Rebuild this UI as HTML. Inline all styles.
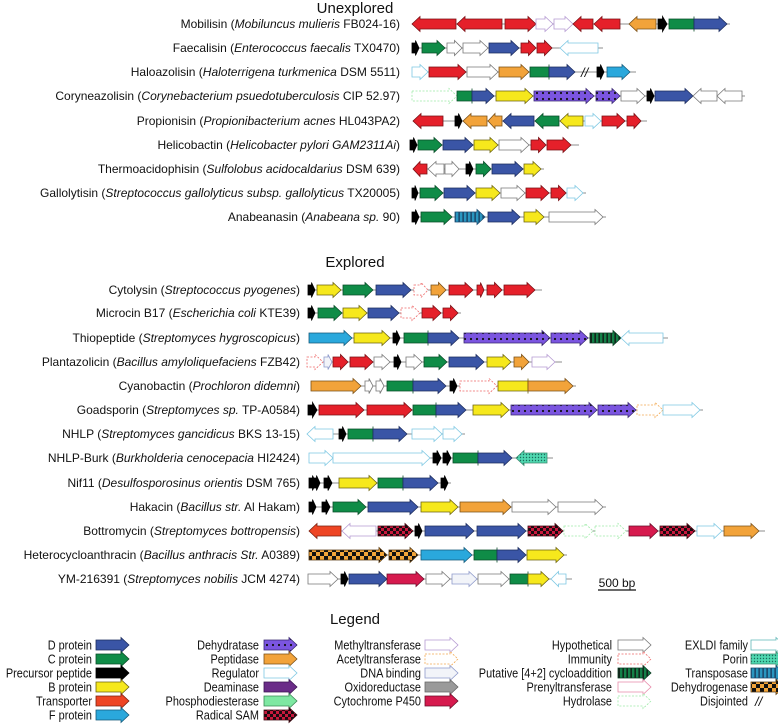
<!DOCTYPE html>
<html><head><meta charset="utf-8"><style>
html,body{margin:0;padding:0;background:#fff}
svg{display:block}
text{font-family:"Liberation Sans",Arial,sans-serif;fill:#111}
</style></head><body>
<svg id="chart" width="778" height="724" viewBox="0 0 778 724" xmlns="http://www.w3.org/2000/svg">
<defs>
<pattern id="pDh" width="6" height="6" patternUnits="userSpaceOnUse"><rect width="6" height="6" fill="#7b55e0"/><circle cx="3" cy="3" r="1.1" fill="#111"/></pattern>
<pattern id="pRS" width="6" height="6" patternUnits="userSpaceOnUse"><rect width="6" height="6" fill="#c8183c"/><rect width="3" height="3" fill="#1a0a10"/><rect x="3" y="3" width="3" height="3" fill="#1a0a10"/></pattern>
<pattern id="pDg" width="8" height="8" patternUnits="userSpaceOnUse"><rect width="8" height="8" fill="#f2a53a"/><rect width="4" height="4" fill="#111"/><rect x="4" y="4" width="4" height="4" fill="#111"/></pattern>
<pattern id="pCyc" width="4" height="4" patternUnits="userSpaceOnUse"><rect width="4" height="4" fill="#148048"/><rect x="2.5" width="1.3" height="4" fill="#111"/></pattern>
<pattern id="pTr" width="4" height="4" patternUnits="userSpaceOnUse"><rect width="4" height="4" fill="#2a96c0"/><rect x="2.5" width="1.2" height="4" fill="#163050"/></pattern>
<pattern id="pPor" width="3" height="3" patternUnits="userSpaceOnUse"><rect width="3" height="3" fill="#4fd8b0"/><circle cx="1.5" cy="1.5" r="0.7" fill="#1a6a5a"/></pattern>
</defs>
<text x="355" y="13" font-size="15" text-anchor="middle">Unexplored</text>
<text x="355" y="267" font-size="15" text-anchor="middle">Explored</text>
<text x="355" y="624" font-size="15" text-anchor="middle">Legend</text>
<g id="rows"></g>
<g id="legend"></g>
<g>
<text x="617" y="587" font-size="12" text-anchor="middle">500 bp</text>
<line id="scaleLine" x1="598" y1="590" x2="636" y2="590" stroke="#111" stroke-width="1.2"/>
</g>
</svg>
<script>
// Gene clusters: [start, end, type, dir, head] in scale units (1 unit ~ 13 bp)
const unexploredNames = [
 ["Mobilisin (","Mobiluncus mulieris"," FB024-16)"],
 ["Faecalisin (","Enterococcus faecalis"," TX0470)"],
 ["Haloazolisin (","Haloterrigena turkmenica"," DSM 5511)"],
 ["Coryneazolisin (","Corynebacterium psuedotuberculosis"," CIP 52.97)"],
 ["Propionisin (","Propionibacterium acnes"," HL043PA2)"],
 ["Helicobactin (","Helicobacter pylori GAM2311Ai",")"],
 ["Thermoacidophisin (","Sulfolobus acidocaldarius"," DSM 639)"],
 ["Gallolytisin (","Streptococcus gallolyticus subsp. gallolyticus"," TX20005)"],
 ["Anabeanasin (","Anabeana sp."," 90)"]
];
const exploredNames = [
 ["Cytolysin (","Streptococcus pyogenes",")"],
 ["Microcin B17 (","Escherichia coli"," KTE39)"],
 ["Thiopeptide (","Streptomyces hygroscopicus",")"],
 ["Plantazolicin (","Bacillus amyloliquefaciens"," FZB42)"],
 ["Cyanobactin (","Prochloron didemni",")"],
 ["Goadsporin (","Streptomyces sp."," TP-A0584)"],
 ["NHLP (","Streptomyces gancidicus"," BKS 13-15)"],
 ["NHLP-Burk (","Burkholderia cenocepacia"," HI2424)"],
 ["Nif11 (","Desulfosporosinus orientis"," DSM 765)"],
 ["Hakacin (","Bacillus str."," Al Hakam)"],
 ["Bottromycin (","Streptomyces bottropensis",")"],
 ["Heterocycloanthracin (","Bacillus anthracis Str."," A0389)"],
 ["YM-216391 (","Streptomyces nobilis"," JCM 4274)"]
];
const unexploredGenes = [
 [[2,46,"T","L"],[47,92,"T","L"],[95,126,"T","R"],[126,143,"M","R"],[144,163,"M","R"],[163,183,"T","L"],[184,210,"T","L"],[219,246,"P","L"],[248,257,"pre","R"],[259,284,"C","R",0],[284,317,"D","R"]],
 [[2,9,"pre","R"],[12,35,"C","R"],[37,52,"H","R"],[53,78,"H","R"],[79,109,"D","R"],[111,126,"T","R"],[127,142,"T","R"],[150,188,"Reg","L"],[190,190,"end","R"]],
 [[2,18,"Reg","R"],[19,56,"T","R"],[57,88,"H","R"],[89,119,"P","R"],[120,139,"C","R",0],[139,165,"D","R"],[171,171,"dis","R"],[187,194,"pre","R"],[197,220,"F","R"],[223,223,"end","R"]],
 [[2,47,"Hyd","R"],[47,62,"C","R",0],[62,84,"D","R"],[86,123,"B","R"],[124,184,"Dh","R"],[186,210,"Dh","R"],[211,235,"H","R"],[237,244,"pre","R"],[245,283,"D","R"],[283,307,"H","L"],[307,332,"H","L"]],
 [[3,33,"T","L"],[45,52,"pre","R"],[53,77,"P","L"],[78,92,"P","L"],[93,124,"D","L"],[125,149,"C","L"],[150,173,"B","L"],[175,191,"Reg","R"],[192,215,"T","R"],[217,231,"T","R"],[234,234,"end","R"]],
 [[0,7,"pre","R"],[8,32,"C","R"],[33,63,"D","R"],[64,88,"B","R"],[89,119,"H","R"],[121,136,"T","R"],[137,161,"T","R"],[166,166,"end","R"]],
 [[3,17,"T","L"],[18,34,"H","L"],[35,49,"H","R"],[56,63,"pre","R"],[66,81,"C","R"],[82,113,"D","R"],[114,131,"B","R"]],
 [[2,8,"pre","R"],[10,33,"C","R"],[34,65,"D","R"],[66,90,"B","R"],[91,115,"H","R"],[116,139,"T","R"],[141,156,"T","R"],[157,173,"Reg","R"]],
 [[2,9,"pre","R"],[11,42,"C","R"],[45,75,"Tr","R"],[78,110,"D","R"],[114,134,"B","R"],[139,193,"H","R"]]
];
const exploredGenes = [
 [[1,8,"pre","R"],[10,34,"B","R"],[36,66,"C","R"],[69,104,"D","R"],[107,121,"Imm","R"],[124,139,"P","R"],[142,166,"T","R"],[170,177,"T","R"],[180,195,"T","R"],[197,228,"T","R"],[232,232,"end","R"]],
 [[1,8,"pre","R"],[11,35,"C","R"],[36,60,"B","R"],[61,92,"D","R"],[94,113,"Imm","R"],[115,134,"T","R"],[136,151,"T","R"]],
 [[2,45,"F","R"],[47,83,"B","R"],[86,93,"pre","R"],[97,121,"C","R",0],[121,152,"D","R"],[157,243,"Dh","R"],[244,281,"Dh","R"],[283,314,"Cyc","R"],[314,356,"Reg","L"],[358,358,"end","R"]],
 [[0,16,"Imm","R"],[17,25,"DNA","R"],[26,41,"T","R"],[43,66,"T","R"],[67,83,"H","R"],[87,94,"pre","R"],[99,115,"H","R"],[117,140,"C","R"],[142,177,"D","R"],[180,204,"B","R"],[207,222,"P","R"],[225,248,"M","R"],[252,252,"end","R"]],
 [[4,54,"P","R"],[58,66,"H","R"],[69,77,"H","R"],[80,106,"C","R",0],[106,139,"D","R"],[143,150,"pre","R"],[153,190,"Imm","R"],[191,221,"B","R",0],[221,266,"P","R"]],
 [[1,10,"pre","R"],[12,57,"T","R"],[60,105,"T","R"],[106,129,"C","R",0],[129,159,"D","R"],[166,202,"B","R"],[204,290,"Dh","R"],[291,329,"Dh","R"],[330,356,"A","R"],[356,393,"Reg","R"]],
 [[0,26,"Reg","L"],[32,39,"pre","R"],[41,66,"C","R",0],[66,100,"D","R"],[105,135,"Reg","R"],[136,155,"Reg","R"]],
 [[2,26,"Reg","R"],[26,123,"Reg","R"],[126,134,"pre","R"],[136,144,"pre","R"],[146,171,"C","R",0],[171,205,"D","R"],[209,240,"Por","L"],[243,243,"end","R"]],
 [[2,9,"pre","R"],[6,13,"pre","R"],[17,25,"pre","R"],[32,70,"B","R"],[71,96,"C","R",0],[96,131,"D","R"],[134,141,"pre","R"]],
 [[2,9,"pre","R"],[15,23,"pre","R"],[26,59,"C","R"],[61,111,"D","R"],[114,151,"B","R"],[153,204,"P","R"],[205,249,"H","R"],[251,296,"H","R"]],
 [[2,34,"T2","L"],[35,69,"M","L"],[71,106,"RS","R"],[108,115,"pre","R"],[118,167,"D","R"],[170,219,"D","R"],[221,256,"RS","R"],[257,286,"Hyd","R"],[288,319,"Hyd","R"],[322,351,"P450","R"],[353,388,"RS","R"],[390,415,"Reg","R"],[417,452,"P","R"],[455,455,"end","R"]],
 [[2,80,"Dg","R"],[82,111,"Dg","R"],[114,165,"F","R"],[167,190,"C","R",0],[190,219,"D","R"],[220,257,"B","R"]],
 [[1,31,"H","R"],[34,41,"pre","R"],[42,80,"D","R"],[80,117,"P450","R"],[119,143,"H","R"],[145,170,"DNA","R"],[171,202,"H","R"],[203,221,"C","R",0],[221,242,"B","R"],[244,259,"Reg","L"],[262,262,"end","R"]]
];
const unexploredY = [24,48,72,96,121,145,169,193,217];
const exploredY = [290,313,338,362,386,410,434,458,483,507,531,555,579];
const legendCols = [
 [["D protein","D"],["C protein","C"],["Precursor peptide","pre"],["B protein","B"],["Transporter","T2"],["F protein","F"]],
 [["Dehydratase","Dh"],["Peptidase","P"],["Regulator","Reg"],["Deaminase","Dm"],["Phosphodiesterase","PD"],["Radical SAM","RS"]],
 [["Methyltransferase","M"],["Acetyltransferase","A"],["DNA binding","DNA"],["Oxidoreductase","Ox"],["Cytochrome P450","P450"]],
 [["Hypothetical","H"],["Immunity","Imm"],["Putative [4+2] cycloaddition","Cyc"],["Prenyltransferase","Pr"],["Hydrolase","Hyd"]],
 [["EXLDI family","EX"],["Porin","Por"],["Transposase","Tr"],["Dehydrogenase","Dg"],["Disjointed","dis"]]
];

const STY = {
 D:["#3a55a6","#1d2d5e"], C:["#0f8c47","#0a4d28"], pre:["#000","#000"], B:["#f6e81c","#6d6410"],
 T:["#e5202a","#7a1015"], T2:["#ee4524","#7a2010"], F:["#2aa8dc","#145a7a"], P:["#f2a33a","#7a5018"],
 Reg:["#fff","#7ec8e3"], Dh:["url(#pDh)","#3a2870"], Dm:["#6a2c88","#3a1450"], PD:["#7ee8a2","#3a8a55"],
 RS:["url(#pRS)","#400810"], M:["#fff","#b59ad2"], A:["#fff","#f2a850",1], DNA:["#f2f4f9","#8e9acb"],
 Ox:["#9a9a9a","#666"], P450:["#d61a4e","#6a0c28"], H:["#fff","#777"], Imm:["#fff","#ee6a6a",1],
 Cyc:["url(#pCyc)","#083a20"], Pr:["#fff","#e88aaa"], Hyd:["#fff","#9eeaa8",1], EX:["#fff","#5fb6b6"],
 Por:["url(#pPor)","#3c8a70"], Tr:["url(#pTr)","#1a4a70"], Dg:["url(#pDg)","#5a3a10"]
};
const NS="http://www.w3.org/2000/svg";
const unit = 1.0; // px per scale unit (500 bp = 38 units)
function xScale(x0,v){return x0+v*unit;}
function arrowPts(a,b,y,dir,head){
  const len=b-a, h=head===0?0:Math.min(8,len*0.5), bh=5, hh=7.5;
  if(dir==="R"){
    return [[a,y-bh],[b-h,y-bh],[b-h,y-hh],[b,y],[b-h,y+hh],[b-h,y+bh],[a,y+bh]];
  }
  return [[b,y-bh],[a+h,y-bh],[a+h,y-hh],[a,y],[a+h,y+hh],[a+h,y+bh],[b,y+bh]];
}
function drawGene(g,a,b,y,type,dir,head,name){
  if(type==="dis"){
    const t=document.createElementNS(NS,"text");
    
    
    t.setAttribute("x",a);t.setAttribute("y",y+5);t.setAttribute("font-size","13");t.setAttribute("font-style","italic");
    t.textContent="//";g.appendChild(t);return;
  }
  if(type==="end")return;
  const s=STY[type];
  const p=document.createElementNS(NS,"polygon");
  
  
  p.setAttribute("points",arrowPts(a,b,y,dir,head).map(q=>q.join(",")).join(" "));
  p.setAttribute("fill",s[0]);p.setAttribute("stroke",s[1]);p.setAttribute("stroke-width","0.8");
  if(s[2])p.setAttribute("stroke-dasharray","2,1.5");
  g.appendChild(p);
}
function drawRow(parent,x0,labelX,y,name,genes,idx,prefix){
  const g=document.createElementNS(NS,"g");
  
  
  const t=document.createElementNS(NS,"text");
  
  
  t.setAttribute("x",labelX);t.setAttribute("y",y+4);t.setAttribute("font-size","12");t.setAttribute("text-anchor","end");
  const s1=document.createElementNS(NS,"tspan");s1.textContent=name[0];
  const s2=document.createElementNS(NS,"tspan");s2.setAttribute("font-style","italic");s2.textContent=name[1];
  const s3=document.createElementNS(NS,"tspan");s3.textContent=name[2];
  t.appendChild(s1);t.appendChild(s2);t.appendChild(s3);g.appendChild(t);
  let mn=1e9,mx=-1e9;
  genes.forEach(q=>{mn=Math.min(mn,q[0]);mx=Math.max(mx,q[1]);});
  const ln=document.createElementNS(NS,"line");
  
  
  ln.setAttribute("x1",xScale(x0,mn));ln.setAttribute("x2",xScale(x0,mx)+3);
  ln.setAttribute("y1",y);ln.setAttribute("y2",y);ln.setAttribute("stroke","#666");ln.setAttribute("stroke-width","0.8");
  g.appendChild(ln);
  genes.forEach((q,i)=>{
    drawGene(g,xScale(x0,q[0]),xScale(x0,q[1]),y,q[2],q[3],q[4],'gene-'+q[2].toLowerCase());
  });
  parent.appendChild(g);
}
const rows=document.getElementById("rows");
unexploredGenes.forEach((gs,i)=>drawRow(rows,410,400,unexploredY[i],unexploredNames[i],gs,i,"unexplored"));
exploredGenes.forEach((gs,i)=>drawRow(rows,307,300,exploredY[i],exploredNames[i],gs,i,"explored"));

const legendX=[[92,96],[259,264],[421,425],[612,618],[748,751]];
const legendY=[645,659,673,687,701,715];
const lg=document.getElementById("legend");
legendCols.forEach((col,ci)=>{
  col.forEach((e,ri)=>{
    const g=document.createElementNS(NS,"g");
    
    
    const y=legendY[ri];
    const t=document.createElementNS(NS,"text");
    t.setAttribute("x",0);t.setAttribute("y",0);t.setAttribute("font-size","13");t.setAttribute("text-anchor","end");
    t.setAttribute("transform","translate("+legendX[ci][0]+","+(y+4.5)+") scale(0.84,1)");
    t.textContent=e[0];g.appendChild(t);
    const a=legendX[ci][1];
    if(e[1]==="dis"){drawGene(g,a+4,a+20,y,"dis","R",1,'legend-swatch');}
    else drawGene(g,a,a+33,y,e[1],"R",1,'legend-swatch');
    lg.appendChild(g);
  });
});
</script>
</body></html>
